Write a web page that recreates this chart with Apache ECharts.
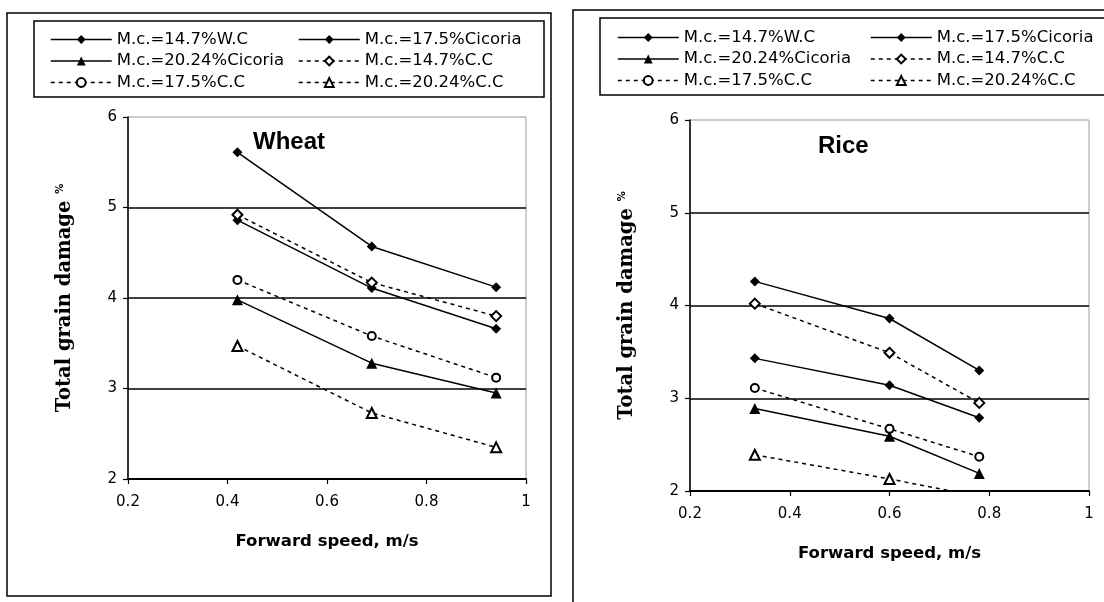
<!DOCTYPE html>
<html>
<head>
<meta charset="utf-8">
<script src="https://cdn.jsdelivr.net/npm/echarts@6/dist/echarts.min.js"></script>
<style>
html,body{margin:0;padding:0;background:#fff;}
#chart{width:1104px;height:602px;}
</style>
</head>
<body>
<div id="chart"></div>
<script>
// ---- Data ----
const seriesNames = [
  'M.c.=14.7%W.C',
  'M.c.=17.5%Cicoria',
  'M.c.=20.24%Cicoria',
  'M.c.=14.7%C.C',
  'M.c.=17.5%C.C',
  'M.c.=20.24%C.C'
];
const xTicks = [0.2, 0.4, 0.6, 0.8, 1];
const yTicks = [2, 3, 4, 5, 6];

// Wheat panel: forward speed (m/s)
const wheatSpeed = [0.42, 0.69, 0.94];
const wheatWC14 = [5.61, 4.57, 4.12];
const wheatCic175 = [4.86, 4.11, 3.66];
const wheatCic2024 = [3.98, 3.28, 2.95];
const wheatCC147 = [4.92, 4.17, 3.80];
const wheatCC175 = [4.20, 3.58, 3.12];
const wheatCC2024 = [3.47, 2.73, 2.35];

// Rice panel
const riceSpeed = [0.33, 0.60, 0.78];
const riceWC14 = [4.26, 3.86, 3.30];
const riceCic175 = [3.43, 3.14, 2.79];
const riceCic2024 = [2.89, 2.59, 2.19];
const riceCC147 = [4.02, 3.49, 2.95];
const riceCC175 = [3.11, 2.67, 2.37];
const riceCC2024 = [2.39, 2.13, 1.94];

const panelTitles = ['Wheat', 'Rice'];
const xAxisTitle = 'Forward speed, m/s';
const yAxisTitle = 'Total grain damage';

// ---- Styling ----
const symbols = ['diamond', 'diamond', 'triangle', 'emptyDiamond', 'emptyCircle', 'emptyTriangle'];
const lineTypes = ['solid', 'solid', 'solid', [4, 4], [4, 4], [4, 4]];
const symbolSizes = [10, 10, 11, 10, 8, 10];

const wheatSets = [wheatWC14, wheatCic175, wheatCic2024, wheatCC147, wheatCC175, wheatCC2024];
const riceSets = [riceWC14, riceCic175, riceCic2024, riceCC147, riceCC175, riceCC2024];

function pairs(xs, ys) { return xs.map((x, i) => [x, ys[i]]); }

function makeSeries(sets, xs, idx) {
  return sets.map((ys, i) => ({
    name: seriesNames[i],
    type: 'line',
    xAxisIndex: idx, yAxisIndex: idx,
    data: pairs(xs, ys),
    symbol: symbols[i],
    symbolSize: symbolSizes[i],
    color: '#000',
    lineStyle: { color: '#000', width: 1.5, type: lineTypes[i] },
    itemStyle: { color: '#000', borderColor: '#000', borderWidth: i >= 3 ? 1.3 : 0 },
    clip: true,
    animation: false,
    z: 5
  }));
}

const grids = [
  { left: 128, top: 117, width: 398, height: 362 },
  { left: 690, top: 120, width: 399, height: 371 }
];

const labelFont = 'DejaVu Sans, Liberation Sans, sans-serif';

function xAxisCfg(idx) {
  return {
    gridIndex: idx, type: 'value', min: 0.2, max: 1, interval: 0.2,
    axisLine: { show: true, onZero: false, lineStyle: { color: '#000', width: 2 } },
    axisTick: { show: true, length: 5, lineStyle: { color: '#000', width: 1.2 } },
    splitLine: { show: false },
    axisLabel: { color: '#000', fontSize: 15, fontFamily: labelFont, margin: 16,
      formatter: v => (Math.round(v * 10) / 10).toString() },
    name: xAxisTitle, nameLocation: 'middle', nameGap: 54,
    nameTextStyle: { color: '#000', fontSize: 16.5, fontWeight: 'bold', fontFamily: labelFont }
  };
}
function yAxisCfg(idx) {
  return {
    gridIndex: idx, type: 'value', min: 2, max: 6, interval: 1,
    axisLine: { show: true, lineStyle: { color: '#000', width: 1.5 } },
    axisTick: { show: true, length: 5, lineStyle: { color: '#000', width: 1.2 } },
    splitLine: { show: true, lineStyle: { color: ['#000', '#000', '#000', '#000', 'rgba(0,0,0,0)'], width: 1.6 } },
    axisLabel: { color: '#000', fontSize: 15, fontFamily: labelFont, margin: 11 },
    name: yAxisTitle + ' {p|%}', nameLocation: 'middle', nameGap: 53, nameRotate: 90,
    nameTextStyle: { color: '#000', fontSize: 19.5, fontWeight: 'bold', fontFamily: 'DejaVu Serif, Liberation Serif, serif',
      rich: { p: { fontSize: 10, color: '#000', fontFamily: labelFont, verticalAlign: 'top', padding: [0, 0, 8, 0] } } }
  };
}

function legendCol(names, left, top) {
  return {
    orient: 'vertical', left: left, top: top,
    data: names,
    itemWidth: 61, itemHeight: 11, itemGap: 4.5,
    lineStyle: { width: 1.5 },
    textStyle: { color: '#000', fontSize: 16.5, fontFamily: labelFont },
    selectedMode: false,
    inactiveColor: '#000'
  };
}

const col1 = [seriesNames[0], seriesNames[2], seriesNames[4]];
const col2 = [seriesNames[1], seriesNames[3], seriesNames[5]];

const option = {
  backgroundColor: '#fff',
  animation: false,
  grid: grids.map(g => Object.assign({ show: true, borderColor: '#9a9a9a', borderWidth: 1, backgroundColor: 'transparent' }, g)),
  xAxis: [xAxisCfg(0), xAxisCfg(1)],
  yAxis: [yAxisCfg(0), yAxisCfg(1)],
  legend: [
    legendCol(col1, 45, 26),
    legendCol(col2, 293, 26),
    legendCol(col1, 612, 24),
    legendCol(col2, 865, 24)
  ],
  title: [
    { text: panelTitles[0], left: 248, top: 125, textStyle: { fontSize: 24, fontWeight: 'bold', color: '#000', fontFamily: 'Liberation Sans, Arial, sans-serif' } },
    { text: panelTitles[1], left: 813, top: 129, textStyle: { fontSize: 24, fontWeight: 'bold', color: '#000', fontFamily: 'Liberation Sans, Arial, sans-serif' } }
  ],
  graphic: [
    { type: 'rect', shape: { x: 7, y: 13, width: 544, height: 583 }, style: { fill: 'none', stroke: '#000', lineWidth: 1.5 }, z: 1 },
    { type: 'rect', shape: { x: 573, y: 10, width: 600, height: 620 }, style: { fill: 'none', stroke: '#000', lineWidth: 1.5 }, z: 1 },
    { type: 'rect', shape: { x: 34, y: 21, width: 510, height: 76 }, style: { fill: 'none', stroke: '#000', lineWidth: 1.5 }, z: 1 },
    { type: 'rect', shape: { x: 600, y: 18, width: 520, height: 77 }, style: { fill: 'none', stroke: '#000', lineWidth: 1.5 }, z: 1 }
  ],
  series: makeSeries(wheatSets, wheatSpeed, 0).concat(makeSeries(riceSets, riceSpeed, 1))
};

const chart = echarts.init(document.getElementById('chart'), null, { renderer: 'canvas' });
chart.setOption(option);
</script>
</body>
</html>
